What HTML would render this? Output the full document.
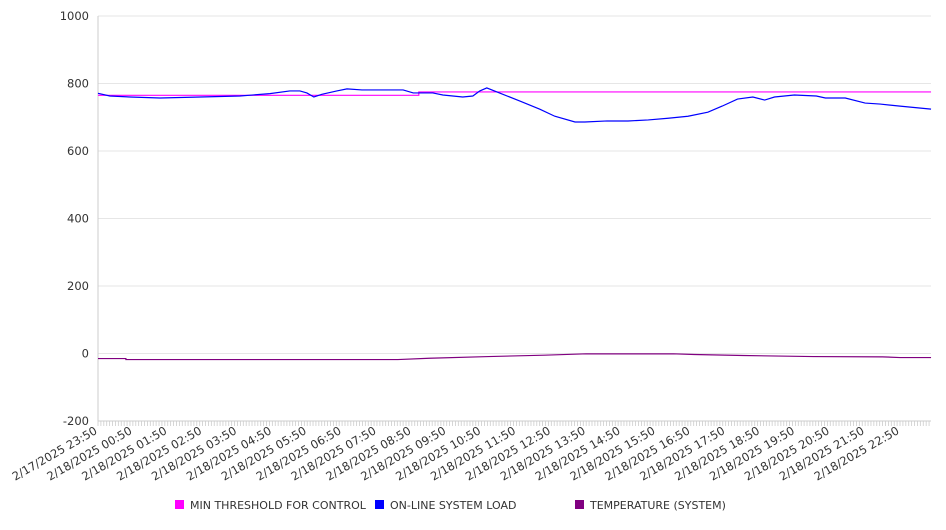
<!DOCTYPE html>
<html><head><meta charset="utf-8"><style>
body{margin:0;background:#fff;font-family:"DejaVu Sans","Liberation Sans",sans-serif;}
svg text{font-family:"DejaVu Sans","Liberation Sans",sans-serif;}
</style></head><body>
<svg id="chart" width="946" height="526" xmlns="http://www.w3.org/2000/svg">
<g id="grid"></g>
<g id="axes"></g>
<g id="series"></g>
<g id="legend">
<rect x="175" y="500" width="9" height="9" fill="#ff00ff"/>
<text x="190" y="509" font-size="11" fill="#333">MIN THRESHOLD FOR CONTROL</text>
<rect x="375" y="500" width="9" height="9" fill="#0000ff"/>
<text x="390" y="509" font-size="11" fill="#333">ON-LINE SYSTEM LOAD</text>
<rect x="575" y="500" width="9" height="9" fill="#800080"/>
<text x="590" y="509" font-size="11" fill="#333">TEMPERATURE (SYSTEM)</text>
</g>
</svg>
<script>
const yTicks=[1000,800,600,400,200,0,-200];
const xLabels=["2/17/2025 23:50","2/18/2025 00:50","2/18/2025 01:50","2/18/2025 02:50","2/18/2025 03:50","2/18/2025 04:50","2/18/2025 05:50","2/18/2025 06:50","2/18/2025 07:50","2/18/2025 08:50","2/18/2025 09:50","2/18/2025 10:50","2/18/2025 11:50","2/18/2025 12:50","2/18/2025 13:50","2/18/2025 14:50","2/18/2025 15:50","2/18/2025 16:50","2/18/2025 17:50","2/18/2025 18:50","2/18/2025 19:50","2/18/2025 20:50","2/18/2025 21:50","2/18/2025 22:50"];
// hours since 2/17 23:50
const loadHours=[0,0.34,0.92,1.78,2.93,4.07,4.93,5.5,5.79,5.99,6.19,6.42,6.85,7.14,7.57,8.17,8.75,9.04,9.6,9.89,10.46,10.75,10.95,11.15,11.44,12.1,12.67,13.1,13.68,13.96,14.6,15.2,15.78,16.35,16.92,17.49,17.9,18.34,18.78,19.12,19.4,19.97,20.6,20.86,21.43,22.0,22.43,23.0,23.89];
const loadValues=[771,763,760,757,760,763,770,778,778,772,760,768,778,784,781,781,781,772,772,766,760,763,778,787,775,748,724,703,686,686,689,689,692,697,703,715,733,754,760,751,760,766,763,757,757,742,739,733,724];
const threshHours=[0,9.2,9.2,23.89];
const threshValues=[765,765,775,775];
const tempHours=[0,0.8,0.8,4,8.6,9.5,11.2,12.8,14.0,16.5,17.1,18.5,20.5,22.5,23.0,23.89];
const tempValues=[-15,-15,-18,-18,-18,-14,-9,-5,-1,-1,-3,-6,-9,-10,-12,-12];

const X0=98,X1=931,PX_PER_HOUR=34.87,Y_TOP=16,Y_BOT=421,VMAX=1000,VMIN=-200;
const xs=h=>X0+h*PX_PER_HOUR;
const ys=v=>Y_TOP+(VMAX-v)/(VMAX-VMIN)*(Y_BOT-Y_TOP);
const NS="http://www.w3.org/2000/svg";
function mk(tag,parent,attrs){const e=document.createElementNS(NS,tag);for(const k in attrs)e.setAttribute(k,attrs[k]);parent.appendChild(e);return e;}
const grid=document.getElementById('grid'),axes=document.getElementById('axes'),series=document.getElementById('series');

yTicks.forEach(v=>{
  const g=mk('line',grid,{x1:X0,x2:X1,y1:ys(v),y2:ys(v),stroke:'#e6e6e6','stroke-width':1});
  
  
  const t=mk('text',axes,{x:89,y:ys(v)+4,'text-anchor':'end','font-size':11.5,fill:'#333'});
  t.textContent=v;
  
  
});
const ya=mk('line',axes,{x1:X0,x2:X0,y1:Y_TOP,y2:Y_BOT,stroke:'#ccc'});


const xa=mk('line',axes,{x1:X0,x2:X1,y1:Y_BOT,y2:Y_BOT,stroke:'#ccc'});


for(let m=0;m*5/60<=23.9;m++){
  const x=xs(m*5/60);
  const tk=mk('line',axes,{x1:x,x2:x,y1:Y_BOT,y2:Y_BOT+5,stroke:'#ccc','stroke-width':0.8});
  
  
}
xLabels.forEach((l,i)=>{
  const x=xs(i);
  const t=mk('text',axes,{x:x,y:Y_BOT+12,'text-anchor':'end','font-size':11.5,fill:'#333',transform:`rotate(-30 ${x} ${Y_BOT+12})`});
  t.textContent=l;
  
  
});
function line(hours,vals,color,name){
  const p=mk('polyline',series,{points:hours.map((h,i)=>xs(h)+','+ys(vals[i])).join(' '),fill:'none',stroke:color,'stroke-width':1.2});
  
  
}
line(threshHours,threshValues,'#ff00ff','threshold-line');
line(tempHours,tempValues,'#800080','temperature-line');
line(loadHours,loadValues,'#0000ff','load-line');
</script>
</body></html>
